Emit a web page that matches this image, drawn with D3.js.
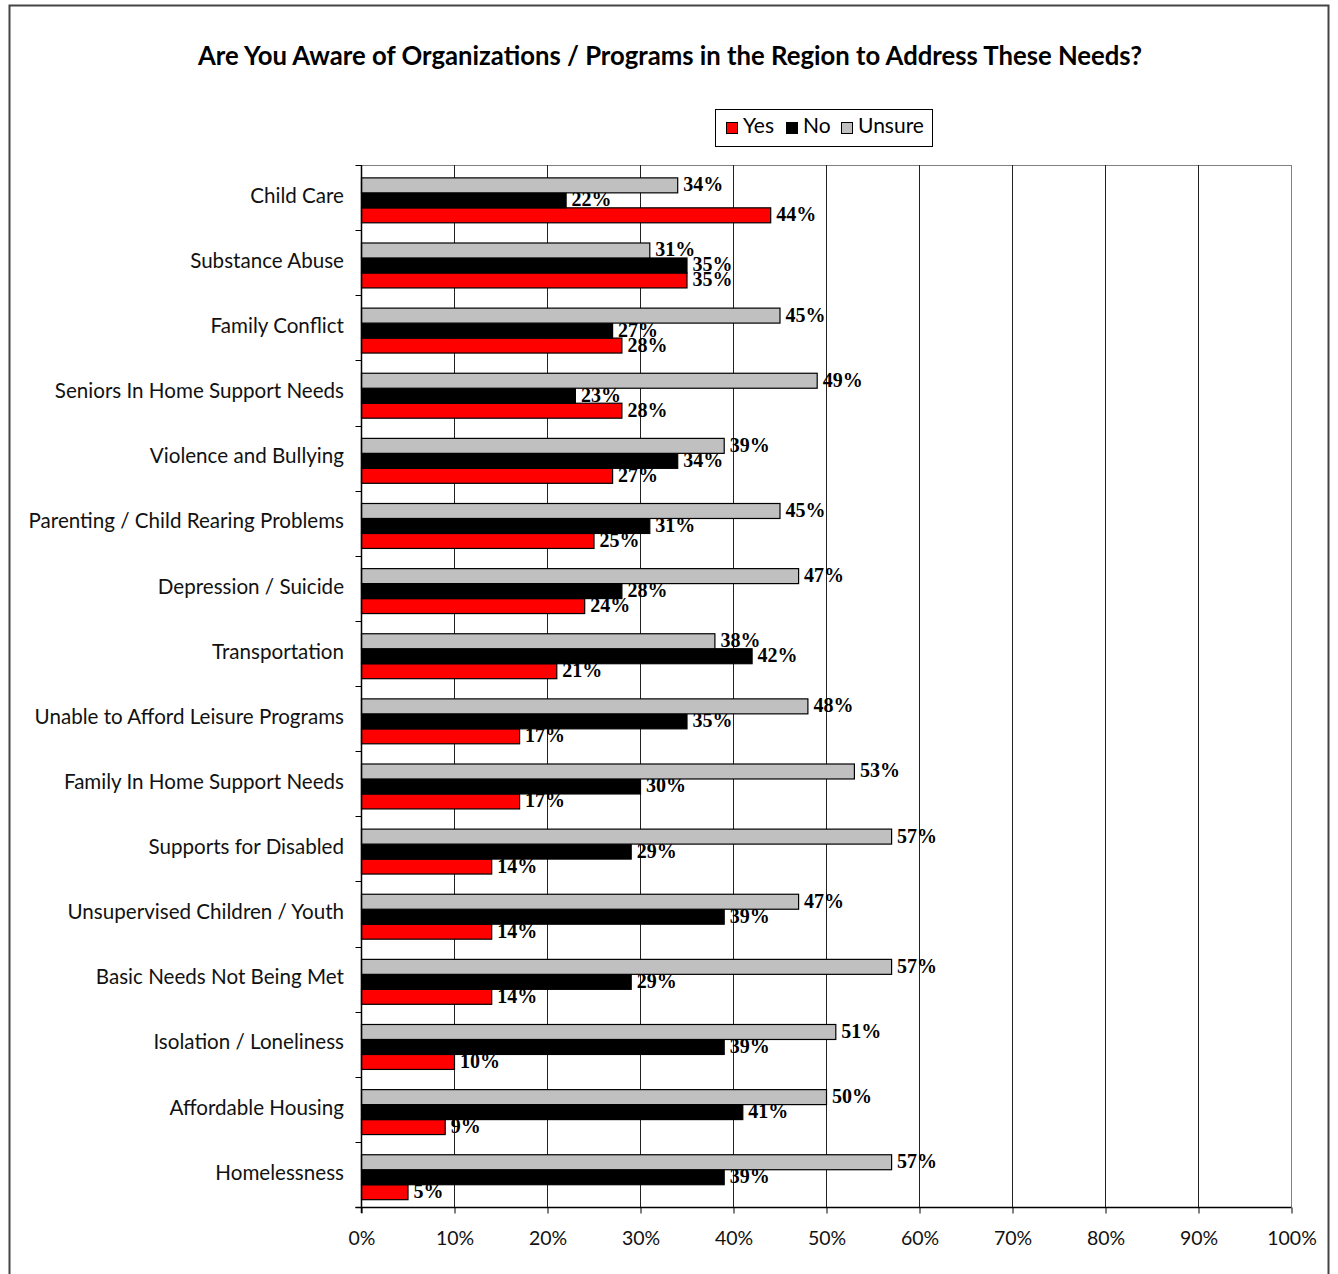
<!DOCTYPE html>
<html>
<head>
<meta charset="utf-8">
<script src="https://cdn.jsdelivr.net/npm/d3@7"></script>
<style>
  html, body { margin: 0; padding: 0; background: #fff; }
  svg { display: block; }
</style>
</head>
<body>
<svg id="chart" width="1338" height="1274"></svg>
<script>
// Survey categories, top to bottom
const categories = [
  "Child Care",
  "Substance Abuse",
  "Family Conflict",
  "Seniors In Home Support Needs",
  "Violence and Bullying",
  "Parenting / Child Rearing Problems",
  "Depression / Suicide",
  "Transportation",
  "Unable to Afford Leisure Programs",
  "Family In Home Support Needs",
  "Supports for Disabled",
  "Unsupervised Children / Youth",
  "Basic Needs Not Being Met",
  "Isolation / Loneliness",
  "Affordable Housing",
  "Homelessness"
];

// Percent of respondents per answer
const yesValues    = [44, 35, 28, 28, 27, 25, 24, 21, 17, 17, 14, 14, 14, 10, 9, 5];
const noValues     = [22, 35, 27, 23, 34, 31, 28, 42, 35, 30, 29, 39, 29, 39, 41, 39];
const unsureValues = [34, 31, 45, 49, 39, 45, 47, 38, 48, 53, 57, 47, 57, 51, 50, 57];

const seriesNames = ["Yes", "No", "Unsure"];
const xTicks = [0, 10, 20, 30, 40, 50, 60, 70, 80, 90, 100];

const colors = { Yes: "#ff0000", No: "#000000", Unsure: "#c0c0c0" };
const seriesData = { Yes: yesValues, No: noValues, Unsure: unsureValues };

const svg = d3.select("#chart");
const labelFont = "'Lato', 'Open Sans', sans-serif";
const valueFont = "'Liberation Serif', 'Times New Roman', serif";

// Outer chart frame
svg.append("rect")
  .attr("x", 9.5).attr("y", 5.5)
  .attr("width", 1319).attr("height", 1290)
  .attr("fill", "none").attr("stroke", "#444").attr("stroke-width", 2);

// Title
svg.append("text")
  .attr("x", 670).attr("y", 65)
  .attr("text-anchor", "middle")
  .attr("font-family", labelFont)
  .attr("font-weight", "bold")
  .attr("font-size", 25.7)
  .text("Are You Aware of Organizations / Programs in the Region to Address These Needs?");

// Plot geometry
const plotLeft = 361, plotRight = 1291, plotTop = 165, plotBottom = 1207;

const x = d3.scaleLinear().domain([0, 100]).range([plotLeft, plotRight]);
const y = d3.scaleBand().domain(categories).range([plotTop, plotBottom]).padding(0);
const sub = d3.scaleBand().domain(["Unsure", "No", "Yes"])
  .range([y.bandwidth() * 0.19, y.bandwidth() * 0.88]).padding(0);

// Plot area top border
svg.append("line")
  .attr("x1", plotLeft).attr("x2", plotRight).attr("y1", plotTop + 0.5).attr("y2", plotTop + 0.5)
  .attr("stroke", "#808080").attr("stroke-width", 1);

// Vertical gridlines
svg.append("g")
  .selectAll("line")
  .data(xTicks.slice(1))
  .join("line")
  .attr("x1", d => Math.round(x(d)) + 0.5)
  .attr("x2", d => Math.round(x(d)) + 0.5)
  .attr("y1", plotTop).attr("y2", plotBottom)
  .attr("stroke", d => d === 100 ? "#808080" : "#222")
  .attr("stroke-width", 1);

// Bars and their value labels, series by series
seriesNames.forEach(name => {
  const vals = seriesData[name];
  const g = svg.append("g");
  g.selectAll("rect")
    .data(categories)
    .join("rect")
    .attr("x", plotLeft + 0.5)
    .attr("y", (c) => y(c) + sub(name) + 0.5)
    .attr("width", (c, i) => x(vals[i]) - plotLeft)
    .attr("height", sub.bandwidth())
    .attr("fill", colors[name])
    .attr("stroke", "#000")
    .attr("stroke-width", 1.2);
  g.selectAll("text")
    .data(categories)
    .join("text")
    .attr("x", (c, i) => x(vals[i]) + 6)
    .attr("y", (c) => y(c) + sub(name) + sub.bandwidth() / 2 + 6.5)
    .attr("font-family", valueFont)
    .attr("font-weight", "bold")
    .attr("font-size", 20)
    .attr("fill", "#000")
    .text((c, i) => vals[i] + "%");
});

// Category axis
const yAxis = svg.append("g")
  .attr("transform", `translate(${plotLeft + 0.5},0)`);
yAxis.append("line")
  .attr("y1", plotTop).attr("y2", plotBottom + 6)
  .attr("stroke", "#000").attr("stroke-width", 1.5);
yAxis.selectAll("line.tick")
  .data(categories.concat(["__end"]))
  .join("line")
  .attr("class", "tick")
  .attr("x1", -6).attr("x2", 0)
  .attr("y1", (c, i) => i < categories.length ? Math.round(y(c)) + 0.5 : plotBottom + 0.5)
  .attr("y2", (c, i) => i < categories.length ? Math.round(y(c)) + 0.5 : plotBottom + 0.5)
  .attr("stroke", "#000");
svg.append("g")
  .selectAll("text")
  .data(categories)
  .join("text")
  .attr("x", 344)
  .attr("y", c => y(c) + y.bandwidth() / 2)
  .attr("text-anchor", "end")
  .attr("dominant-baseline", "middle")
  .attr("font-family", labelFont)
  .attr("font-size", 20.6)
  .attr("fill", "#111")
  .text(c => c);

// Percentage axis
const xAxis = d3.axisBottom(x)
  .tickValues(xTicks)
  .tickSize(6)
  .tickFormat(d => d + "%");
const xg = svg.append("g")
  .attr("transform", `translate(0.5,${plotBottom + 0.5})`)
  .call(xAxis);
xg.select(".domain").attr("stroke", "#000").attr("stroke-width", 1.5)
  .attr("d", `M${plotLeft - 6},0H${plotRight}`);
xg.selectAll(".tick line").attr("stroke", "#000");
xg.selectAll(".tick text")
  .attr("font-family", labelFont)
  .attr("font-size", 19.5)
  .attr("fill", "#111")
  .attr("y", 24)
  .attr("dy", "0.71em");

// Legend
const legend = svg.append("g").attr("transform", "translate(715,109)");
legend.append("rect")
  .attr("x", 0.5).attr("y", 0.5).attr("width", 217).attr("height", 37)
  .attr("fill", "#fff").attr("stroke", "#000");
const legendX = [11, 71, 126];
seriesNames.forEach((name, i) => {
  legend.append("rect")
    .attr("x", legendX[i] + 0.5).attr("y", 13.5)
    .attr("width", 11).attr("height", 11)
    .attr("fill", colors[name]).attr("stroke", "#000");
  legend.append("text")
    .attr("x", legendX[i] + 17).attr("y", 19)
    .attr("dominant-baseline", "middle")
    .attr("font-family", labelFont)
    .attr("font-size", 21)
    .text(name);
});
</script>
</body>
</html>
